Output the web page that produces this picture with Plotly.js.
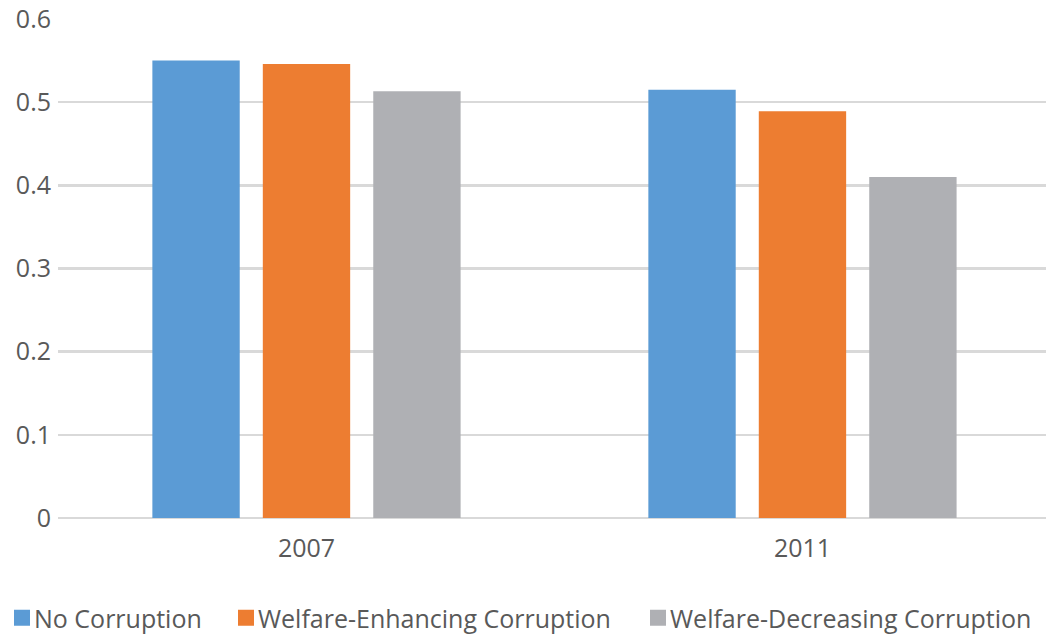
<!DOCTYPE html>
<html>
<head>
<meta charset="utf-8">
<script src="https://cdn.plot.ly/plotly-3.0.1.min.js"></script>
<style>html,body{margin:0;padding:0;background:#fff;}#chart{width:1046px;height:635px;}</style>
</head>
<body>
<div id="chart"></div>
<script>
const categories = ["2007", "2011"];
const seriesNames = ["No Corruption", "Welfare-Enhancing Corruption", "Welfare-Decreasing Corruption"];
const noCorruption = [0.550, 0.515];
const welfareEnhancing = [0.546, 0.489];
const welfareDecreasing = [0.513, 0.410];
const colors = ["#5b9bd5", "#ed7d31", "#afb0b4"];
const yTicks = [0, 0.1, 0.2, 0.3, 0.4, 0.5, 0.6];
const yTickText = ["0", "0.1", "0.2", "0.3", "0.4", "0.5", "0.6"];

const FONT = "Open Sans, sans-serif";
const legendIds = ["legend", "legend2", "legend3"];
const legendX = [0, 0.2084, 0.6023];
const values = [noCorruption, welfareEnhancing, welfareDecreasing];
const traces = values.map((v, i) => ({
  type: "bar",
  name: seriesNames[i],
  x: categories,
  y: v,
  marker: {color: colors[i]},
  legend: legendIds[i],
  hoverinfo: "skip"
}));

const layout = {
  width: 1046, height: 635,
  margin: {l: 58, r: 0, t: 19, b: 117, autoexpand: false},
  paper_bgcolor: "#ffffff", plot_bgcolor: "#ffffff",
  barmode: "group", bargap: 0.332, bargroupgap: 0.209,
  showlegend: true,
  xaxis: {type: "category", range: [-0.501, 1.491], showgrid: false, showline: false, zeroline: false, ticks: "",
          tickfont: {family: FONT, size: 25, color: "#595959"}, ticklabelstandoff: 13},
  yaxis: {range: [0, 0.6], tickvals: yTicks, ticktext: yTickText, showgrid: true,
          gridcolor: "#d9d9d9", gridwidth: 2.5, zeroline: true, zerolinecolor: "#d9d9d9", zerolinewidth: 2.5,
          showline: false, ticks: "", tickfont: {family: FONT, size: 25, color: "#595959"}, ticklabelstandoff: 6}
};
legendIds.forEach((id, i) => {
  layout[id] = {orientation: "h", xref: "container", yref: "container",
                x: legendX[i], xanchor: "left", y: 1 - 618 / 635, yanchor: "middle",
                font: {family: FONT, size: 25, color: "#595959"}, itemwidth: 30,
                bgcolor: "rgba(0,0,0,0)", borderwidth: 0};
});

Plotly.newPlot("chart", traces, layout, {displayModeBar: false, staticPlot: true}).then(gd => {
  gd.querySelectorAll(".legendpoints path").forEach(p => {
    p.setAttribute("d", "M0,-8H16V8H0Z");
  });
  const lg = gd.querySelector("g.legend");
  if (lg) {
    const t = lg.getAttribute("transform") || "";
    const m = t.match(/translate\(\s*([-\d.]+)[ ,]+([-\d.]+)\s*\)/);
    if (m) lg.setAttribute("transform", "translate(" + (parseFloat(m[1]) - 6) + "," + m[2] + ")");
  }
});
</script>
</body>
</html>
